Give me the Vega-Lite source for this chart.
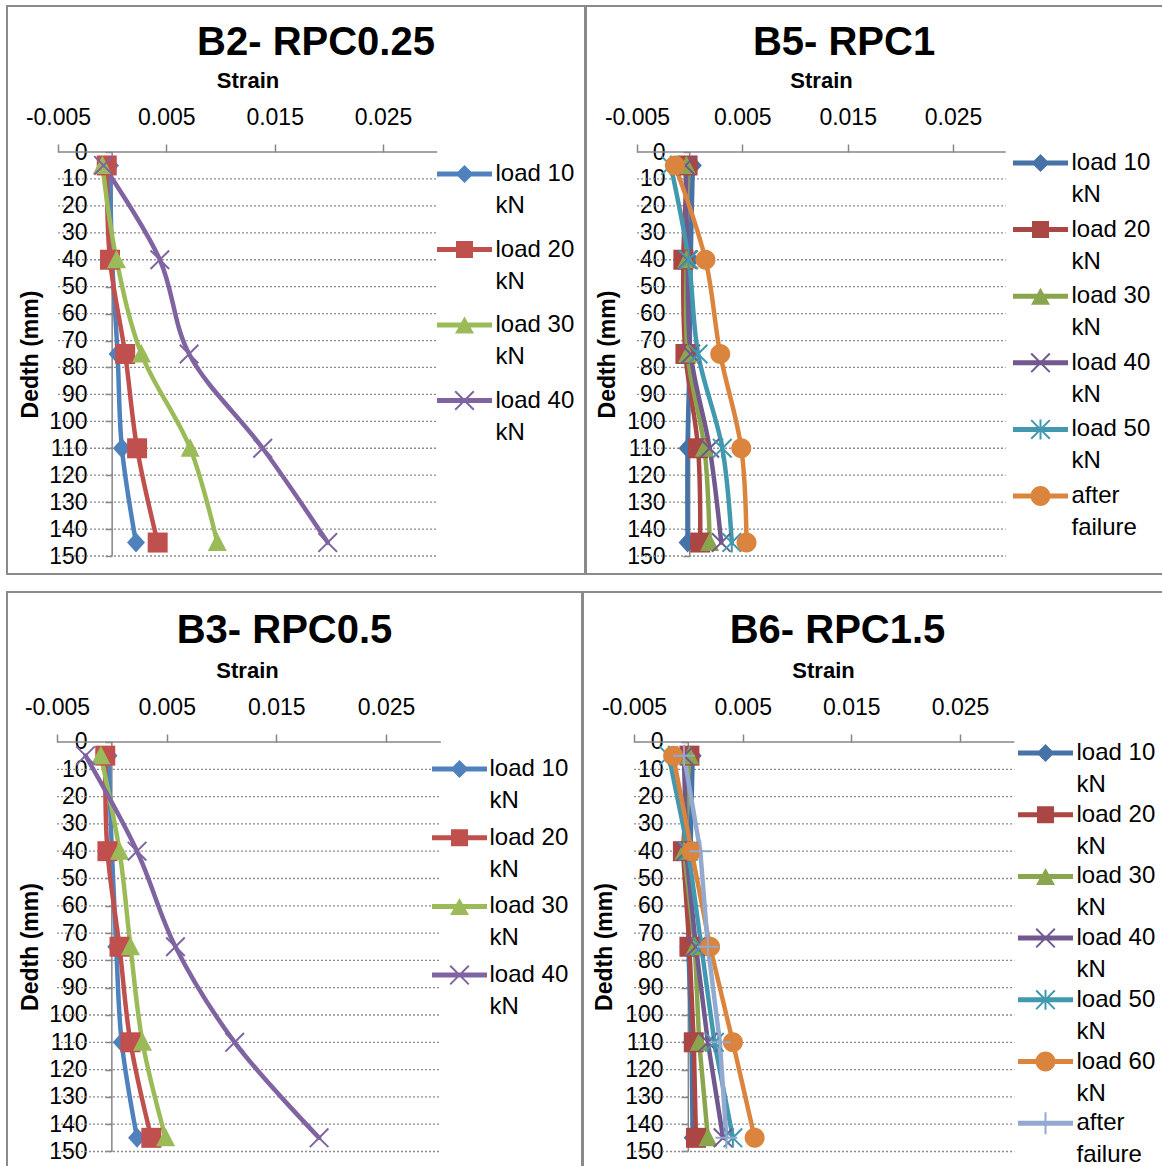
{
  "$schema": "https://vega.github.io/schema/vega-lite/v6.json",
  "background": "white",
  "padding": {"left": 6, "top": 5, "right": 0, "bottom": 0},
  "config": {
    "font": "Liberation Sans",
    "view": {"stroke": "#8a8a8a", "strokeWidth": 2},
    "axis": {"domain": false, "grid": false, "ticks": true, "tickColor": "#868686", "tickWidth": 1.5, "labelFont": "Liberation Sans", "labelFontSize": 23, "labelColor": "#000000", "labelOverlap": false, "labelSeparation": 0, "labelFlush": false, "titleFont": "Liberation Sans", "titleFontSize": 23, "titleFontWeight": "bold", "titleColor": "#000000", "titleAlign": "center", "titleBaseline": "middle"},
    "axisX": {"tickSize": 8, "labelPadding": 15, "titleFontSize": 22},
    "axisY": {"tickSize": 7, "labelPadding": 18, "titleAngle": -90, "labelOverlap": false},
    "axisLeft": {"labelOverlap": false},
    "axisQuantitative": {"labelOverlap": false},
    "legend": {"labelFont": "Liberation Sans", "labelFontSize": 24, "labelColor": "#000000", "symbolSize": 400, "symbolOffset": 15.5, "symbolStrokeWidth": 0, "padding": 0, "labelLimit": 300, "direction": "vertical"},
    "title": {"font": "Liberation Sans", "fontSize": 40, "fontWeight": "bold", "color": "#000000", "anchor": "middle", "frame": "group"}
  },
  "datasets": {
    "grid": [{"depth": 10}, {"depth": 20}, {"depth": 30}, {"depth": 40}, {"depth": 50}, {"depth": 60}, {"depth": 70}, {"depth": 80}, {"depth": 90}, {"depth": 100}, {"depth": 110}, {"depth": 120}, {"depth": 130}, {"depth": 140}, {"depth": 150}],
    "b2": [
      {"series": "load 10 kN", "depth": 5, "strain": -0.0002}, {"series": "load 10 kN", "depth": 40, "strain": 0.0}, {"series": "load 10 kN", "depth": 75, "strain": 0.0005}, {"series": "load 10 kN", "depth": 110, "strain": 0.0009}, {"series": "load 10 kN", "depth": 145, "strain": 0.0022},
      {"series": "load 20 kN", "depth": 5, "strain": -0.0005}, {"series": "load 20 kN", "depth": 40, "strain": -0.0002}, {"series": "load 20 kN", "depth": 75, "strain": 0.0012}, {"series": "load 20 kN", "depth": 110, "strain": 0.0023}, {"series": "load 20 kN", "depth": 145, "strain": 0.0042},
      {"series": "load 30 kN", "depth": 5, "strain": -0.0009}, {"series": "load 30 kN", "depth": 40, "strain": 0.0004}, {"series": "load 30 kN", "depth": 75, "strain": 0.0027}, {"series": "load 30 kN", "depth": 110, "strain": 0.0072}, {"series": "load 30 kN", "depth": 145, "strain": 0.0097},
      {"series": "load 40 kN", "depth": 5, "strain": -0.0008}, {"series": "load 40 kN", "depth": 40, "strain": 0.0044}, {"series": "load 40 kN", "depth": 75, "strain": 0.0071}, {"series": "load 40 kN", "depth": 110, "strain": 0.0139}, {"series": "load 40 kN", "depth": 145, "strain": 0.0199}
    ],
    "b5": [
      {"series": "load 10 kN", "depth": 5, "strain": 0.0003}, {"series": "load 10 kN", "depth": 40, "strain": 0.0001}, {"series": "load 10 kN", "depth": 75, "strain": 0.0}, {"series": "load 10 kN", "depth": 110, "strain": -0.0002}, {"series": "load 10 kN", "depth": 145, "strain": -0.0002},
      {"series": "load 20 kN", "depth": 5, "strain": -0.0002}, {"series": "load 20 kN", "depth": 40, "strain": -0.0006}, {"series": "load 20 kN", "depth": 75, "strain": -0.0004}, {"series": "load 20 kN", "depth": 110, "strain": 0.0008}, {"series": "load 20 kN", "depth": 145, "strain": 0.001},
      {"series": "load 30 kN", "depth": 5, "strain": -0.0003}, {"series": "load 30 kN", "depth": 40, "strain": -0.0003}, {"series": "load 30 kN", "depth": 75, "strain": -0.0002}, {"series": "load 30 kN", "depth": 110, "strain": 0.0014}, {"series": "load 30 kN", "depth": 145, "strain": 0.0019},
      {"series": "load 40 kN", "depth": 5, "strain": -0.0004}, {"series": "load 40 kN", "depth": 40, "strain": -0.0002}, {"series": "load 40 kN", "depth": 75, "strain": 0.0001}, {"series": "load 40 kN", "depth": 110, "strain": 0.0019}, {"series": "load 40 kN", "depth": 145, "strain": 0.003},
      {"series": "load 50 kN", "depth": 5, "strain": -0.0018}, {"series": "load 50 kN", "depth": 40, "strain": -0.0001}, {"series": "load 50 kN", "depth": 75, "strain": 0.0008}, {"series": "load 50 kN", "depth": 110, "strain": 0.0031}, {"series": "load 50 kN", "depth": 145, "strain": 0.004},
      {"series": "after failure", "depth": 5, "strain": -0.0014}, {"series": "after failure", "depth": 40, "strain": 0.0015}, {"series": "after failure", "depth": 75, "strain": 0.0029}, {"series": "after failure", "depth": 110, "strain": 0.0049}, {"series": "after failure", "depth": 145, "strain": 0.0054}
    ],
    "b3": [
      {"series": "load 10 kN", "depth": 5, "strain": -0.0003}, {"series": "load 10 kN", "depth": 40, "strain": 0.0}, {"series": "load 10 kN", "depth": 75, "strain": 0.0004}, {"series": "load 10 kN", "depth": 110, "strain": 0.0009}, {"series": "load 10 kN", "depth": 145, "strain": 0.0023},
      {"series": "load 20 kN", "depth": 5, "strain": -0.0006}, {"series": "load 20 kN", "depth": 40, "strain": -0.0004}, {"series": "load 20 kN", "depth": 75, "strain": 0.0007}, {"series": "load 20 kN", "depth": 110, "strain": 0.0017}, {"series": "load 20 kN", "depth": 145, "strain": 0.0036},
      {"series": "load 30 kN", "depth": 5, "strain": -0.001}, {"series": "load 30 kN", "depth": 40, "strain": 0.0007}, {"series": "load 30 kN", "depth": 75, "strain": 0.0017}, {"series": "load 30 kN", "depth": 110, "strain": 0.0028}, {"series": "load 30 kN", "depth": 145, "strain": 0.0049},
      {"series": "load 40 kN", "depth": 5, "strain": -0.0024}, {"series": "load 40 kN", "depth": 40, "strain": 0.0023}, {"series": "load 40 kN", "depth": 75, "strain": 0.0058}, {"series": "load 40 kN", "depth": 110, "strain": 0.0112}, {"series": "load 40 kN", "depth": 145, "strain": 0.0189}
    ],
    "b6": [
      {"series": "load 10 kN", "depth": 5, "strain": 0.0004}, {"series": "load 10 kN", "depth": 40, "strain": 0.0002}, {"series": "load 10 kN", "depth": 75, "strain": 0.0}, {"series": "load 10 kN", "depth": 110, "strain": 0.0003}, {"series": "load 10 kN", "depth": 145, "strain": 0.0004},
      {"series": "load 20 kN", "depth": 5, "strain": 0.0001}, {"series": "load 20 kN", "depth": 40, "strain": -0.0005}, {"series": "load 20 kN", "depth": 75, "strain": 0.0001}, {"series": "load 20 kN", "depth": 110, "strain": 0.0005}, {"series": "load 20 kN", "depth": 145, "strain": 0.0007},
      {"series": "load 30 kN", "depth": 5, "strain": 0.0001}, {"series": "load 30 kN", "depth": 40, "strain": -0.0004}, {"series": "load 30 kN", "depth": 75, "strain": 0.0006}, {"series": "load 30 kN", "depth": 110, "strain": 0.001}, {"series": "load 30 kN", "depth": 145, "strain": 0.0018},
      {"series": "load 40 kN", "depth": 5, "strain": -0.0004}, {"series": "load 40 kN", "depth": 40, "strain": -0.0002}, {"series": "load 40 kN", "depth": 75, "strain": 0.0007}, {"series": "load 40 kN", "depth": 110, "strain": 0.0018}, {"series": "load 40 kN", "depth": 145, "strain": 0.0032},
      {"series": "load 50 kN", "depth": 5, "strain": -0.0018}, {"series": "load 50 kN", "depth": 40, "strain": 0.0}, {"series": "load 50 kN", "depth": 75, "strain": 0.0012}, {"series": "load 50 kN", "depth": 110, "strain": 0.0024}, {"series": "load 50 kN", "depth": 145, "strain": 0.0041},
      {"series": "load 60 kN", "depth": 5, "strain": -0.0014}, {"series": "load 60 kN", "depth": 40, "strain": 0.0003}, {"series": "load 60 kN", "depth": 75, "strain": 0.002}, {"series": "load 60 kN", "depth": 110, "strain": 0.0041}, {"series": "load 60 kN", "depth": 145, "strain": 0.0061},
      {"series": "after failure", "depth": 5, "strain": -0.0004}, {"series": "after failure", "depth": 40, "strain": 0.0011}, {"series": "after failure", "depth": 75, "strain": 0.0018}, {"series": "after failure", "depth": 110, "strain": 0.0029}, {"series": "after failure", "depth": 145, "strain": 0.0035}
    ]
  },
  "resolve": {"scale": {"color": "independent", "shape": "independent"}, "legend": {"color": "independent", "shape": "independent"}},
  "spacing": 16,
  "vconcat": [
    {
      "spacing": -2,
      "resolve": {"scale": {"color": "independent", "shape": "independent"}, "legend": {"color": "independent", "shape": "independent"}},
      "hconcat": [
        {
          "width": 578, "height": 568,
          "title": {"text": "B2- RPC0.25", "dx": 20, "offset": -57},
          "layer": [
            {"data": {"name": "grid"}, "mark": {"type": "rule", "color": "#8c8c8c", "strokeWidth": 1.3, "strokeDash": [2, 2]},
             "encoding": {
               "y": {"field": "depth", "type": "quantitative", "scale": {"domain": [-54.209, 156.68], "nice": false, "zero": false, "reverse": true},
                     "axis": {"orient": "left", "offset": -105, "values": [0, 10, 20, 30, 40, 50, 60, 70, 80, 90, 100, 110, 120, 130, 140, 150], "labelOverlap": false, "labelFlush": false, "format": "d", "title": "Dedth (mm)", "titleX": -82, "titleY": 348}},
               "x": {"datum": -0.005, "type": "quantitative", "scale": {"domain": [-0.009708, 0.043647], "nice": false, "zero": false},
                     "axis": {"orient": "top", "offset": -146, "values": [-0.005, 0.005, 0.015, 0.025], "labelOverlap": false, "labelFlush": false, "labelExpr": "replace(format(datum.value, '.3f'), '\u2212', '-')", "title": "Strain", "titleX": 240.5, "titleY": -72}},
               "x2": {"datum": 0.03}}},
            {"data": {"values": [{}]}, "mark": {"type": "rule", "color": "#868686", "strokeWidth": 1.5},
             "encoding": {
               "y": {"datum": 0, "type": "quantitative", "scale": {"domain": [-54.209, 156.68], "nice": false, "zero": false, "reverse": true},
                     "axis": {"orient": "left", "offset": -105, "values": [0, 10, 20, 30, 40, 50, 60, 70, 80, 90, 100, 110, 120, 130, 140, 150], "labelOverlap": false, "labelFlush": false, "format": "d", "title": "Dedth (mm)", "titleX": -82, "titleY": 348}},
               "x": {"datum": -0.005, "type": "quantitative", "scale": {"domain": [-0.009708, 0.043647], "nice": false, "zero": false},
                     "axis": {"orient": "top", "offset": -146, "values": [-0.005, 0.005, 0.015, 0.025], "labelOverlap": false, "labelFlush": false, "labelExpr": "replace(format(datum.value, '.3f'), '\u2212', '-')", "title": "Strain", "titleX": 240.5, "titleY": -72}},
               "x2": {"datum": 0.03}}},
            {"data": {"values": [{}]}, "mark": {"type": "rule", "color": "#868686", "strokeWidth": 1.5},
             "encoding": {
               "x": {"datum": 0, "type": "quantitative", "scale": {"domain": [-0.009708, 0.043647], "nice": false, "zero": false},
                     "axis": {"orient": "top", "offset": -146, "values": [-0.005, 0.005, 0.015, 0.025], "labelOverlap": false, "labelFlush": false, "labelExpr": "replace(format(datum.value, '.3f'), '\u2212', '-')", "title": "Strain", "titleX": 240.5, "titleY": -72}},
               "y": {"datum": 0, "type": "quantitative", "scale": {"domain": [-54.209, 156.68], "nice": false, "zero": false, "reverse": true},
                     "axis": {"orient": "left", "offset": -105, "values": [0, 10, 20, 30, 40, 50, 60, 70, 80, 90, 100, 110, 120, 130, 140, 150], "labelOverlap": false, "labelFlush": false, "format": "d", "title": "Dedth (mm)", "titleX": -82, "titleY": 348}},
               "y2": {"datum": 150}}},
            {"data": {"name": "b2"}, "mark": {"type": "line", "strokeWidth": 4.5, "interpolate": "catmull-rom", "strokeCap": "round", "strokeJoin": "round"},
             "encoding": {
               "x": {"field": "strain", "type": "quantitative", "scale": {"domain": [-0.009708, 0.043647], "nice": false, "zero": false},
                     "axis": {"orient": "top", "offset": -146, "values": [-0.005, 0.005, 0.015, 0.025], "labelOverlap": false, "labelFlush": false, "labelExpr": "replace(format(datum.value, '.3f'), '\u2212', '-')", "title": "Strain", "titleX": 240.5, "titleY": -72}},
               "y": {"field": "depth", "type": "quantitative", "scale": {"domain": [-54.209, 156.68], "nice": false, "zero": false, "reverse": true},
                     "axis": {"orient": "left", "offset": -105, "values": [0, 10, 20, 30, 40, 50, 60, 70, 80, 90, 100, 110, 120, 130, 140, 150], "labelOverlap": false, "labelFlush": false, "format": "d", "title": "Dedth (mm)", "titleX": -82, "titleY": 348}},
               "order": {"field": "depth", "type": "quantitative"},
               "color": {"field": "series", "type": "nominal",
                         "scale": {"domain": ["load 10 kN", "load 20 kN", "load 30 kN", "load 40 kN"], "range": ["#4F81BD", "#C0504D", "#9BBB59", "#8064A2"]},
                         "legend": {"orient": "none", "legendX": 430, "legendY": 156, "title": null, "rowPadding": 19.5, "labelOffset": 19,
                                    "labelExpr": "datum.label == 'after failure' ? ['after', 'failure'] : [replace(datum.label, ' kN', ''), 'kN']",
                                    "encode": {
                                      "symbols": {"update": {
                                        "shape": {"signal": "['M-2.75,-0.25H2.75V0.25H-2.75Z M0,-0.9L0.9,0L0,0.9L-0.9,0Z', 'M-2.75,-0.25H2.75V0.25H-2.75Z M-0.85,-0.85H0.85V0.85H-0.85Z', 'M-2.75,-0.25H2.75V0.25H-2.75Z M0,-0.85L0.95,0.85H-0.95Z', 'M-2.75,-0.25H2.75V0.25H-2.75Z M-1,-0.86L-0.86,-1L1,0.86L0.86,1Z M0.86,-1L1,-0.86L-0.86,1L-1,0.86Z'][indexof(['load 10 kN', 'load 20 kN', 'load 30 kN', 'load 40 kN'], datum.value)]"},
                                        "fill": {"signal": "['#4F81BD', '#C0504D', '#9BBB59', '#8064A2'][indexof(['load 10 kN', 'load 20 kN', 'load 30 kN', 'load 40 kN'], datum.value)]"},
                                        "fillOpacity": {"value": 1},
                                        "strokeWidth": {"value": 0}
                                      }},
                                      "labels": {"update": {"lineHeight": {"value": 32}}}
                                    }}}
             }},
            {"data": {"name": "b2"}, "mark": {"type": "point", "filled": true, "size": 400, "opacity": 1, "strokeWidth": 0},
             "encoding": {
               "x": {"field": "strain", "type": "quantitative", "scale": {"domain": [-0.009708, 0.043647], "nice": false, "zero": false},
                     "axis": {"orient": "top", "offset": -146, "values": [-0.005, 0.005, 0.015, 0.025], "labelOverlap": false, "labelFlush": false, "labelExpr": "replace(format(datum.value, '.3f'), '\u2212', '-')", "title": "Strain", "titleX": 240.5, "titleY": -72}},
               "y": {"field": "depth", "type": "quantitative", "scale": {"domain": [-54.209, 156.68], "nice": false, "zero": false, "reverse": true},
                     "axis": {"orient": "left", "offset": -105, "values": [0, 10, 20, 30, 40, 50, 60, 70, 80, 90, 100, 110, 120, 130, 140, 150], "labelOverlap": false, "labelFlush": false, "format": "d", "title": "Dedth (mm)", "titleX": -82, "titleY": 348}},
               "color": {"field": "series", "type": "nominal", "scale": {"domain": ["load 10 kN", "load 20 kN", "load 30 kN", "load 40 kN"], "range": ["#4F81BD", "#C0504D", "#9BBB59", "#8064A2"]}, "legend": null},
               "shape": {"field": "series", "type": "nominal", "legend": null,
                         "scale": {"domain": ["load 40 kN", "load 30 kN", "load 20 kN", "load 10 kN"],
                                   "range": ["M-1,-0.86L-0.86,-1L1,0.86L0.86,1Z M0.86,-1L1,-0.86L-0.86,1L-1,0.86Z", "M0,-1L0.95,0.85H-0.95Z", "M-1,-1H1V1H-1Z", "M0,-1L0.9,0L0,1L-0.9,0Z"]}}
             }}
          ]
        },
        {
          "width": 578, "height": 568,
          "title": {"text": "B5- RPC1", "dx": -31, "offset": -57},
          "layer": [
            {"data": {"name": "grid"}, "mark": {"type": "rule", "color": "#8c8c8c", "strokeWidth": 1.3, "strokeDash": [2, 2]},
             "encoding": {
               "y": {"field": "depth", "type": "quantitative", "scale": {"domain": [-54.209, 156.68], "nice": false, "zero": false, "reverse": true},
                     "axis": {"orient": "left", "offset": -104, "values": [0, 10, 20, 30, 40, 50, 60, 70, 80, 90, 100, 110, 120, 130, 140, 150], "labelOverlap": false, "labelFlush": false, "format": "d", "title": "Dedth (mm)", "titleX": -83, "titleY": 348}},
               "x": {"datum": -0.005, "type": "quantitative", "scale": {"domain": [-0.009842, 0.045033], "nice": false, "zero": false},
                     "axis": {"orient": "top", "offset": -146, "values": [-0.005, 0.005, 0.015, 0.025], "labelOverlap": false, "labelFlush": false, "labelExpr": "replace(format(datum.value, '.3f'), '\u2212', '-')", "title": "Strain", "titleX": 235, "titleY": -72}},
               "x2": {"datum": 0.03}}},
            {"data": {"values": [{}]}, "mark": {"type": "rule", "color": "#868686", "strokeWidth": 1.5},
             "encoding": {
               "y": {"datum": 0, "type": "quantitative", "scale": {"domain": [-54.209, 156.68], "nice": false, "zero": false, "reverse": true},
                     "axis": {"orient": "left", "offset": -104, "values": [0, 10, 20, 30, 40, 50, 60, 70, 80, 90, 100, 110, 120, 130, 140, 150], "labelOverlap": false, "labelFlush": false, "format": "d", "title": "Dedth (mm)", "titleX": -83, "titleY": 348}},
               "x": {"datum": -0.005, "type": "quantitative", "scale": {"domain": [-0.009842, 0.045033], "nice": false, "zero": false},
                     "axis": {"orient": "top", "offset": -146, "values": [-0.005, 0.005, 0.015, 0.025], "labelOverlap": false, "labelFlush": false, "labelExpr": "replace(format(datum.value, '.3f'), '\u2212', '-')", "title": "Strain", "titleX": 235, "titleY": -72}},
               "x2": {"datum": 0.03}}},
            {"data": {"values": [{}]}, "mark": {"type": "rule", "color": "#868686", "strokeWidth": 1.5},
             "encoding": {
               "x": {"datum": 0, "type": "quantitative", "scale": {"domain": [-0.009842, 0.045033], "nice": false, "zero": false},
                     "axis": {"orient": "top", "offset": -146, "values": [-0.005, 0.005, 0.015, 0.025], "labelOverlap": false, "labelFlush": false, "labelExpr": "replace(format(datum.value, '.3f'), '\u2212', '-')", "title": "Strain", "titleX": 235, "titleY": -72}},
               "y": {"datum": 0, "type": "quantitative", "scale": {"domain": [-54.209, 156.68], "nice": false, "zero": false, "reverse": true},
                     "axis": {"orient": "left", "offset": -104, "values": [0, 10, 20, 30, 40, 50, 60, 70, 80, 90, 100, 110, 120, 130, 140, 150], "labelOverlap": false, "labelFlush": false, "format": "d", "title": "Dedth (mm)", "titleX": -83, "titleY": 348}},
               "y2": {"datum": 150}}},
            {"data": {"name": "b5"}, "mark": {"type": "line", "strokeWidth": 4.5, "interpolate": "catmull-rom", "strokeCap": "round", "strokeJoin": "round"},
             "encoding": {
               "x": {"field": "strain", "type": "quantitative", "scale": {"domain": [-0.009842, 0.045033], "nice": false, "zero": false},
                     "axis": {"orient": "top", "offset": -146, "values": [-0.005, 0.005, 0.015, 0.025], "labelOverlap": false, "labelFlush": false, "labelExpr": "replace(format(datum.value, '.3f'), '\u2212', '-')", "title": "Strain", "titleX": 235, "titleY": -72}},
               "y": {"field": "depth", "type": "quantitative", "scale": {"domain": [-54.209, 156.68], "nice": false, "zero": false, "reverse": true},
                     "axis": {"orient": "left", "offset": -104, "values": [0, 10, 20, 30, 40, 50, 60, 70, 80, 90, 100, 110, 120, 130, 140, 150], "labelOverlap": false, "labelFlush": false, "format": "d", "title": "Dedth (mm)", "titleX": -83, "titleY": 348}},
               "order": {"field": "depth", "type": "quantitative"},
               "color": {"field": "series", "type": "nominal",
                         "scale": {"domain": ["load 10 kN", "load 20 kN", "load 30 kN", "load 40 kN", "load 50 kN", "after failure"], "range": ["#4572A7", "#AA4643", "#89A54E", "#71588F", "#4198AF", "#DB843D"]},
                         "legend": {"orient": "none", "legendX": 427, "legendY": 145, "title": null, "rowPadding": 10.6, "labelOffset": 19,
                                    "labelExpr": "datum.label == 'after failure' ? ['after', 'failure'] : [replace(datum.label, ' kN', ''), 'kN']",
                                    "encode": {
                                      "symbols": {"update": {
                                        "shape": {"signal": "['M-2.75,-0.25H2.75V0.25H-2.75Z M0,-0.9L0.9,0L0,0.9L-0.9,0Z', 'M-2.75,-0.25H2.75V0.25H-2.75Z M-0.85,-0.85H0.85V0.85H-0.85Z', 'M-2.75,-0.25H2.75V0.25H-2.75Z M0,-0.85L0.95,0.85H-0.95Z', 'M-2.75,-0.25H2.75V0.25H-2.75Z M-1,-0.86L-0.86,-1L1,0.86L0.86,1Z M0.86,-1L1,-0.86L-0.86,1L-1,0.86Z', 'M-2.75,-0.25H2.75V0.25H-2.75Z M-1,-0.86L-0.86,-1L1,0.86L0.86,1Z M0.86,-1L1,-0.86L-0.86,1L-1,0.86Z M-0.1,-1H0.1V1H-0.1Z', 'M-2.75,-0.25H2.75V0.25H-2.75Z M1,0A1,1,0,1,1,-1,0A1,1,0,1,1,1,0Z'][indexof(['load 10 kN', 'load 20 kN', 'load 30 kN', 'load 40 kN', 'load 50 kN', 'after failure'], datum.value)]"},
                                        "fill": {"signal": "['#4572A7', '#AA4643', '#89A54E', '#71588F', '#4198AF', '#DB843D'][indexof(['load 10 kN', 'load 20 kN', 'load 30 kN', 'load 40 kN', 'load 50 kN', 'after failure'], datum.value)]"},
                                        "fillOpacity": {"value": 1},
                                        "strokeWidth": {"value": 0}
                                      }},
                                      "labels": {"update": {"lineHeight": {"value": 32}}}
                                    }}}
             }},
            {"data": {"name": "b5"}, "mark": {"type": "point", "filled": true, "size": 400, "opacity": 1, "strokeWidth": 0},
             "encoding": {
               "x": {"field": "strain", "type": "quantitative", "scale": {"domain": [-0.009842, 0.045033], "nice": false, "zero": false},
                     "axis": {"orient": "top", "offset": -146, "values": [-0.005, 0.005, 0.015, 0.025], "labelOverlap": false, "labelFlush": false, "labelExpr": "replace(format(datum.value, '.3f'), '\u2212', '-')", "title": "Strain", "titleX": 235, "titleY": -72}},
               "y": {"field": "depth", "type": "quantitative", "scale": {"domain": [-54.209, 156.68], "nice": false, "zero": false, "reverse": true},
                     "axis": {"orient": "left", "offset": -104, "values": [0, 10, 20, 30, 40, 50, 60, 70, 80, 90, 100, 110, 120, 130, 140, 150], "labelOverlap": false, "labelFlush": false, "format": "d", "title": "Dedth (mm)", "titleX": -83, "titleY": 348}},
               "color": {"field": "series", "type": "nominal", "scale": {"domain": ["load 10 kN", "load 20 kN", "load 30 kN", "load 40 kN", "load 50 kN", "after failure"], "range": ["#4572A7", "#AA4643", "#89A54E", "#71588F", "#4198AF", "#DB843D"]}, "legend": null},
               "shape": {"field": "series", "type": "nominal", "legend": null,
                         "scale": {"domain": ["after failure", "load 50 kN", "load 40 kN", "load 30 kN", "load 20 kN", "load 10 kN"],
                                   "range": ["M1,0A1,1,0,1,1,-1,0A1,1,0,1,1,1,0Z", "M-1,-0.86L-0.86,-1L1,0.86L0.86,1Z M0.86,-1L1,-0.86L-0.86,1L-1,0.86Z M-0.1,-1H0.1V1H-0.1Z", "M-1,-0.86L-0.86,-1L1,0.86L0.86,1Z M0.86,-1L1,-0.86L-0.86,1L-1,0.86Z", "M0,-1L0.95,0.85H-0.95Z", "M-1,-1H1V1H-1Z", "M0,-1L0.9,0L0,1L-0.9,0Z"]}}
             }}
          ]
        }
      ]
    },
    {
      "spacing": -2,
      "resolve": {"scale": {"color": "independent", "shape": "independent"}, "legend": {"color": "independent", "shape": "independent"}},
      "hconcat": [
        {
          "width": 575, "height": 578,
          "title": {"text": "B3- RPC0.5", "dx": -10, "offset": -59},
          "layer": [
            {"data": {"name": "grid"}, "mark": {"type": "rule", "color": "#8c8c8c", "strokeWidth": 1.3, "strokeDash": [2, 2]},
             "encoding": {
               "y": {"field": "depth", "type": "quantitative", "scale": {"domain": [-54.945, 156.78], "nice": false, "zero": false, "reverse": true},
                     "axis": {"orient": "left", "offset": -105, "values": [0, 10, 20, 30, 40, 50, 60, 70, 80, 90, 100, 110, 120, 130, 140, 150], "labelOverlap": false, "labelFlush": false, "format": "d", "title": "Dedth (mm)", "titleX": -82, "titleY": 354.5}},
               "x": {"datum": -0.005, "type": "quantitative", "scale": {"domain": [-0.009559, 0.042871], "nice": false, "zero": false},
                     "axis": {"orient": "top", "offset": -150, "values": [-0.005, 0.005, 0.015, 0.025], "labelOverlap": false, "labelFlush": false, "labelExpr": "replace(format(datum.value, '.3f'), '\u2212', '-')", "title": "Strain", "titleX": 240, "titleY": -72}},
               "x2": {"datum": 0.03}}},
            {"data": {"values": [{}]}, "mark": {"type": "rule", "color": "#868686", "strokeWidth": 1.5},
             "encoding": {
               "y": {"datum": 0, "type": "quantitative", "scale": {"domain": [-54.945, 156.78], "nice": false, "zero": false, "reverse": true},
                     "axis": {"orient": "left", "offset": -105, "values": [0, 10, 20, 30, 40, 50, 60, 70, 80, 90, 100, 110, 120, 130, 140, 150], "labelOverlap": false, "labelFlush": false, "format": "d", "title": "Dedth (mm)", "titleX": -82, "titleY": 354.5}},
               "x": {"datum": -0.005, "type": "quantitative", "scale": {"domain": [-0.009559, 0.042871], "nice": false, "zero": false},
                     "axis": {"orient": "top", "offset": -150, "values": [-0.005, 0.005, 0.015, 0.025], "labelOverlap": false, "labelFlush": false, "labelExpr": "replace(format(datum.value, '.3f'), '\u2212', '-')", "title": "Strain", "titleX": 240, "titleY": -72}},
               "x2": {"datum": 0.03}}},
            {"data": {"values": [{}]}, "mark": {"type": "rule", "color": "#868686", "strokeWidth": 1.5},
             "encoding": {
               "x": {"datum": 0, "type": "quantitative", "scale": {"domain": [-0.009559, 0.042871], "nice": false, "zero": false},
                     "axis": {"orient": "top", "offset": -150, "values": [-0.005, 0.005, 0.015, 0.025], "labelOverlap": false, "labelFlush": false, "labelExpr": "replace(format(datum.value, '.3f'), '\u2212', '-')", "title": "Strain", "titleX": 240, "titleY": -72}},
               "y": {"datum": 0, "type": "quantitative", "scale": {"domain": [-54.945, 156.78], "nice": false, "zero": false, "reverse": true},
                     "axis": {"orient": "left", "offset": -105, "values": [0, 10, 20, 30, 40, 50, 60, 70, 80, 90, 100, 110, 120, 130, 140, 150], "labelOverlap": false, "labelFlush": false, "format": "d", "title": "Dedth (mm)", "titleX": -82, "titleY": 354.5}},
               "y2": {"datum": 150}}},
            {"data": {"name": "b3"}, "mark": {"type": "line", "strokeWidth": 4.5, "interpolate": "catmull-rom", "strokeCap": "round", "strokeJoin": "round"},
             "encoding": {
               "x": {"field": "strain", "type": "quantitative", "scale": {"domain": [-0.009559, 0.042871], "nice": false, "zero": false},
                     "axis": {"orient": "top", "offset": -150, "values": [-0.005, 0.005, 0.015, 0.025], "labelOverlap": false, "labelFlush": false, "labelExpr": "replace(format(datum.value, '.3f'), '\u2212', '-')", "title": "Strain", "titleX": 240, "titleY": -72}},
               "y": {"field": "depth", "type": "quantitative", "scale": {"domain": [-54.945, 156.78], "nice": false, "zero": false, "reverse": true},
                     "axis": {"orient": "left", "offset": -105, "values": [0, 10, 20, 30, 40, 50, 60, 70, 80, 90, 100, 110, 120, 130, 140, 150], "labelOverlap": false, "labelFlush": false, "format": "d", "title": "Dedth (mm)", "titleX": -82, "titleY": 354.5}},
               "order": {"field": "depth", "type": "quantitative"},
               "color": {"field": "series", "type": "nominal",
                         "scale": {"domain": ["load 10 kN", "load 20 kN", "load 30 kN", "load 40 kN"], "range": ["#4F81BD", "#C0504D", "#9BBB59", "#8064A2"]},
                         "legend": {"orient": "none", "legendX": 425, "legendY": 165, "title": null, "rowPadding": 12.7, "labelOffset": 18,
                                    "labelExpr": "datum.label == 'after failure' ? ['after', 'failure'] : [replace(datum.label, ' kN', ''), 'kN']",
                                    "encode": {
                                      "symbols": {"update": {
                                        "shape": {"signal": "['M-2.75,-0.25H2.75V0.25H-2.75Z M0,-0.9L0.9,0L0,0.9L-0.9,0Z', 'M-2.75,-0.25H2.75V0.25H-2.75Z M-0.85,-0.85H0.85V0.85H-0.85Z', 'M-2.75,-0.25H2.75V0.25H-2.75Z M0,-0.85L0.95,0.85H-0.95Z', 'M-2.75,-0.25H2.75V0.25H-2.75Z M-1,-0.86L-0.86,-1L1,0.86L0.86,1Z M0.86,-1L1,-0.86L-0.86,1L-1,0.86Z'][indexof(['load 10 kN', 'load 20 kN', 'load 30 kN', 'load 40 kN'], datum.value)]"},
                                        "fill": {"signal": "['#4F81BD', '#C0504D', '#9BBB59', '#8064A2'][indexof(['load 10 kN', 'load 20 kN', 'load 30 kN', 'load 40 kN'], datum.value)]"},
                                        "fillOpacity": {"value": 1},
                                        "strokeWidth": {"value": 0}
                                      }},
                                      "labels": {"update": {"lineHeight": {"value": 32}}}
                                    }}}
             }},
            {"data": {"name": "b3"}, "mark": {"type": "point", "filled": true, "size": 400, "opacity": 1, "strokeWidth": 0},
             "encoding": {
               "x": {"field": "strain", "type": "quantitative", "scale": {"domain": [-0.009559, 0.042871], "nice": false, "zero": false},
                     "axis": {"orient": "top", "offset": -150, "values": [-0.005, 0.005, 0.015, 0.025], "labelOverlap": false, "labelFlush": false, "labelExpr": "replace(format(datum.value, '.3f'), '\u2212', '-')", "title": "Strain", "titleX": 240, "titleY": -72}},
               "y": {"field": "depth", "type": "quantitative", "scale": {"domain": [-54.945, 156.78], "nice": false, "zero": false, "reverse": true},
                     "axis": {"orient": "left", "offset": -105, "values": [0, 10, 20, 30, 40, 50, 60, 70, 80, 90, 100, 110, 120, 130, 140, 150], "labelOverlap": false, "labelFlush": false, "format": "d", "title": "Dedth (mm)", "titleX": -82, "titleY": 354.5}},
               "color": {"field": "series", "type": "nominal", "scale": {"domain": ["load 10 kN", "load 20 kN", "load 30 kN", "load 40 kN"], "range": ["#4F81BD", "#C0504D", "#9BBB59", "#8064A2"]}, "legend": null},
               "shape": {"field": "series", "type": "nominal", "legend": null,
                         "scale": {"domain": ["load 40 kN", "load 30 kN", "load 20 kN", "load 10 kN"],
                                   "range": ["M-1,-0.86L-0.86,-1L1,0.86L0.86,1Z M0.86,-1L1,-0.86L-0.86,1L-1,0.86Z", "M0,-1L0.95,0.85H-0.95Z", "M-1,-1H1V1H-1Z", "M0,-1L0.9,0L0,1L-0.9,0Z"]}}
             }}
          ]
        },
        {
          "width": 581, "height": 578,
          "title": {"text": "B6- RPC1.5", "dx": -36, "offset": -59},
          "layer": [
            {"data": {"name": "grid"}, "mark": {"type": "rule", "color": "#8c8c8c", "strokeWidth": 1.3, "strokeDash": [2, 2]},
             "encoding": {
               "y": {"field": "depth", "type": "quantitative", "scale": {"domain": [-54.945, 156.78], "nice": false, "zero": false, "reverse": true},
                     "axis": {"orient": "left", "offset": -105, "values": [0, 10, 20, 30, 40, 50, 60, 70, 80, 90, 100, 110, 120, 130, 140, 150], "labelOverlap": false, "labelFlush": false, "format": "d", "title": "Dedth (mm)", "titleX": -84, "titleY": 354.5}},
               "x": {"datum": -0.005, "type": "quantitative", "scale": {"domain": [-0.009693, 0.043772], "nice": false, "zero": false},
                     "axis": {"orient": "top", "offset": -150, "values": [-0.005, 0.005, 0.015, 0.025], "labelOverlap": false, "labelFlush": false, "labelExpr": "replace(format(datum.value, '.3f'), '\u2212', '-')", "title": "Strain", "titleX": 240, "titleY": -72}},
               "x2": {"datum": 0.03}}},
            {"data": {"values": [{}]}, "mark": {"type": "rule", "color": "#868686", "strokeWidth": 1.5},
             "encoding": {
               "y": {"datum": 0, "type": "quantitative", "scale": {"domain": [-54.945, 156.78], "nice": false, "zero": false, "reverse": true},
                     "axis": {"orient": "left", "offset": -105, "values": [0, 10, 20, 30, 40, 50, 60, 70, 80, 90, 100, 110, 120, 130, 140, 150], "labelOverlap": false, "labelFlush": false, "format": "d", "title": "Dedth (mm)", "titleX": -84, "titleY": 354.5}},
               "x": {"datum": -0.005, "type": "quantitative", "scale": {"domain": [-0.009693, 0.043772], "nice": false, "zero": false},
                     "axis": {"orient": "top", "offset": -150, "values": [-0.005, 0.005, 0.015, 0.025], "labelOverlap": false, "labelFlush": false, "labelExpr": "replace(format(datum.value, '.3f'), '\u2212', '-')", "title": "Strain", "titleX": 240, "titleY": -72}},
               "x2": {"datum": 0.03}}},
            {"data": {"values": [{}]}, "mark": {"type": "rule", "color": "#868686", "strokeWidth": 1.5},
             "encoding": {
               "x": {"datum": 0, "type": "quantitative", "scale": {"domain": [-0.009693, 0.043772], "nice": false, "zero": false},
                     "axis": {"orient": "top", "offset": -150, "values": [-0.005, 0.005, 0.015, 0.025], "labelOverlap": false, "labelFlush": false, "labelExpr": "replace(format(datum.value, '.3f'), '\u2212', '-')", "title": "Strain", "titleX": 240, "titleY": -72}},
               "y": {"datum": 0, "type": "quantitative", "scale": {"domain": [-54.945, 156.78], "nice": false, "zero": false, "reverse": true},
                     "axis": {"orient": "left", "offset": -105, "values": [0, 10, 20, 30, 40, 50, 60, 70, 80, 90, 100, 110, 120, 130, 140, 150], "labelOverlap": false, "labelFlush": false, "format": "d", "title": "Dedth (mm)", "titleX": -84, "titleY": 354.5}},
               "y2": {"datum": 150}}},
            {"data": {"name": "b6"}, "mark": {"type": "line", "strokeWidth": 4.5, "strokeCap": "round", "strokeJoin": "round"},
             "encoding": {
               "x": {"field": "strain", "type": "quantitative", "scale": {"domain": [-0.009693, 0.043772], "nice": false, "zero": false},
                     "axis": {"orient": "top", "offset": -150, "values": [-0.005, 0.005, 0.015, 0.025], "labelOverlap": false, "labelFlush": false, "labelExpr": "replace(format(datum.value, '.3f'), '\u2212', '-')", "title": "Strain", "titleX": 240, "titleY": -72}},
               "y": {"field": "depth", "type": "quantitative", "scale": {"domain": [-54.945, 156.78], "nice": false, "zero": false, "reverse": true},
                     "axis": {"orient": "left", "offset": -105, "values": [0, 10, 20, 30, 40, 50, 60, 70, 80, 90, 100, 110, 120, 130, 140, 150], "labelOverlap": false, "labelFlush": false, "format": "d", "title": "Dedth (mm)", "titleX": -84, "titleY": 354.5}},
               "order": {"field": "depth", "type": "quantitative"},
               "color": {"field": "series", "type": "nominal",
                         "scale": {"domain": ["load 10 kN", "load 20 kN", "load 30 kN", "load 40 kN", "load 50 kN", "load 60 kN", "after failure"], "range": ["#4572A7", "#AA4643", "#89A54E", "#71588F", "#4198AF", "#DB843D", "#93A9CF"]},
                         "legend": {"orient": "none", "legendX": 435, "legendY": 149, "title": null, "rowPadding": 5.7, "labelOffset": 19,
                                    "labelExpr": "datum.label == 'after failure' ? ['after', 'failure'] : [replace(datum.label, ' kN', ''), 'kN']",
                                    "encode": {
                                      "symbols": {"update": {
                                        "shape": {"signal": "['M-2.75,-0.25H2.75V0.25H-2.75Z M0,-0.9L0.9,0L0,0.9L-0.9,0Z', 'M-2.75,-0.25H2.75V0.25H-2.75Z M-0.85,-0.85H0.85V0.85H-0.85Z', 'M-2.75,-0.25H2.75V0.25H-2.75Z M0,-0.85L0.95,0.85H-0.95Z', 'M-2.75,-0.25H2.75V0.25H-2.75Z M-1,-0.86L-0.86,-1L1,0.86L0.86,1Z M0.86,-1L1,-0.86L-0.86,1L-1,0.86Z', 'M-2.75,-0.25H2.75V0.25H-2.75Z M-1,-0.86L-0.86,-1L1,0.86L0.86,1Z M0.86,-1L1,-0.86L-0.86,1L-1,0.86Z M-0.1,-1H0.1V1H-0.1Z', 'M-2.75,-0.25H2.75V0.25H-2.75Z M1,0A1,1,0,1,1,-1,0A1,1,0,1,1,1,0Z', 'M-2.75,-0.25H2.75V0.25H-2.75Z M-1.1,-0.1H1.1V0.1H-1.1Z M-0.1,-1.1H0.1V1.1H-0.1Z'][indexof(['load 10 kN', 'load 20 kN', 'load 30 kN', 'load 40 kN', 'load 50 kN', 'load 60 kN', 'after failure'], datum.value)]"},
                                        "fill": {"signal": "['#4572A7', '#AA4643', '#89A54E', '#71588F', '#4198AF', '#DB843D', '#93A9CF'][indexof(['load 10 kN', 'load 20 kN', 'load 30 kN', 'load 40 kN', 'load 50 kN', 'load 60 kN', 'after failure'], datum.value)]"},
                                        "fillOpacity": {"value": 1},
                                        "strokeWidth": {"value": 0}
                                      }},
                                      "labels": {"update": {"lineHeight": {"value": 32}}}
                                    }}}
             }},
            {"data": {"name": "b6"}, "mark": {"type": "point", "filled": true, "size": 400, "opacity": 1, "strokeWidth": 0},
             "encoding": {
               "x": {"field": "strain", "type": "quantitative", "scale": {"domain": [-0.009693, 0.043772], "nice": false, "zero": false},
                     "axis": {"orient": "top", "offset": -150, "values": [-0.005, 0.005, 0.015, 0.025], "labelOverlap": false, "labelFlush": false, "labelExpr": "replace(format(datum.value, '.3f'), '\u2212', '-')", "title": "Strain", "titleX": 240, "titleY": -72}},
               "y": {"field": "depth", "type": "quantitative", "scale": {"domain": [-54.945, 156.78], "nice": false, "zero": false, "reverse": true},
                     "axis": {"orient": "left", "offset": -105, "values": [0, 10, 20, 30, 40, 50, 60, 70, 80, 90, 100, 110, 120, 130, 140, 150], "labelOverlap": false, "labelFlush": false, "format": "d", "title": "Dedth (mm)", "titleX": -84, "titleY": 354.5}},
               "color": {"field": "series", "type": "nominal", "scale": {"domain": ["load 10 kN", "load 20 kN", "load 30 kN", "load 40 kN", "load 50 kN", "load 60 kN", "after failure"], "range": ["#4572A7", "#AA4643", "#89A54E", "#71588F", "#4198AF", "#DB843D", "#93A9CF"]}, "legend": null},
               "shape": {"field": "series", "type": "nominal", "legend": null,
                         "scale": {"domain": ["after failure", "load 60 kN", "load 50 kN", "load 40 kN", "load 30 kN", "load 20 kN", "load 10 kN"],
                                   "range": ["M-1.1,-0.1H1.1V0.1H-1.1Z M-0.1,-1.1H0.1V1.1H-0.1Z", "M1,0A1,1,0,1,1,-1,0A1,1,0,1,1,1,0Z", "M-1,-0.86L-0.86,-1L1,0.86L0.86,1Z M0.86,-1L1,-0.86L-0.86,1L-1,0.86Z M-0.1,-1H0.1V1H-0.1Z", "M-1,-0.86L-0.86,-1L1,0.86L0.86,1Z M0.86,-1L1,-0.86L-0.86,1L-1,0.86Z", "M0,-1L0.95,0.85H-0.95Z", "M-1,-1H1V1H-1Z", "M0,-1L0.9,0L0,1L-0.9,0Z"]}}
             }}
          ]
        }
      ]
    }
  ]
}
